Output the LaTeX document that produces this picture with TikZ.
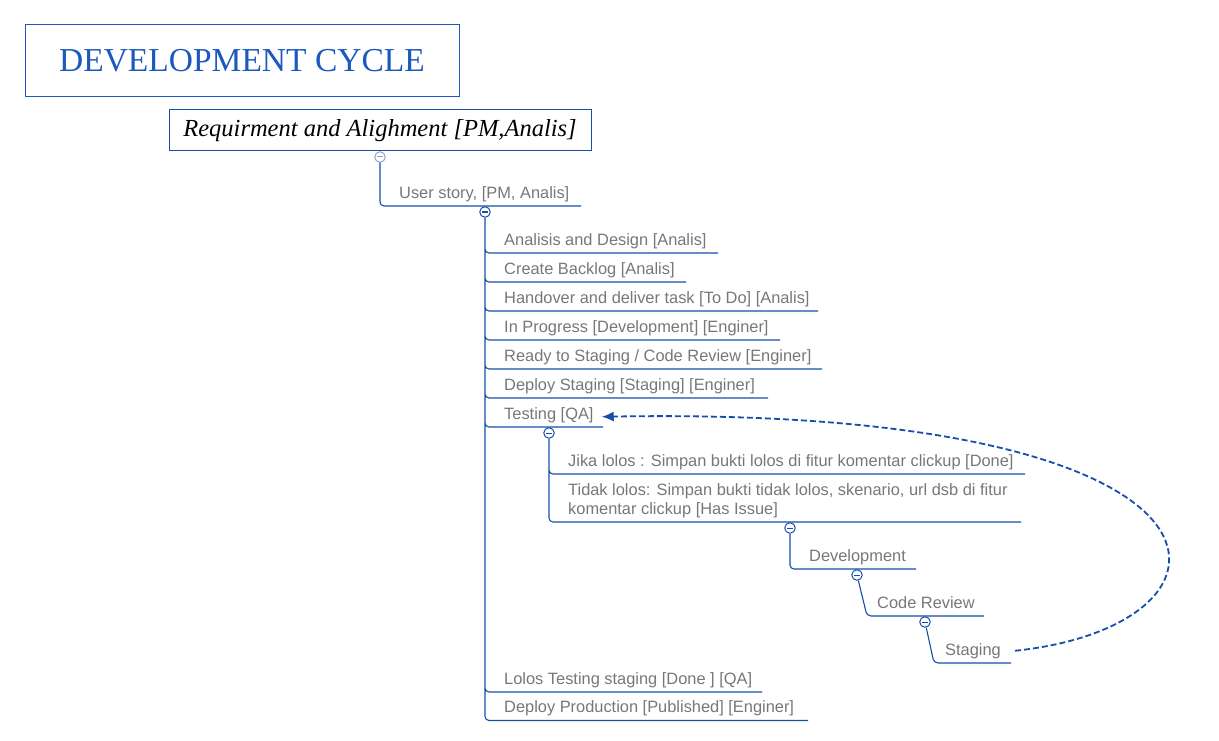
\documentclass[tikz,border=0pt]{standalone}
\usepackage{fontspec}
\setmainfont{Liberation Serif}
\setsansfont{Liberation Sans}
\usetikzlibrary{arrows.meta}
\definecolor{mapblue}{RGB}{22,78,170}
\definecolor{titleblue}{RGB}{28,88,190}
\definecolor{foldgray}{RGB}{150,160,205}
\definecolor{topicgray}{RGB}{119,119,119}

\begin{document}
\begin{tikzpicture}[x=1pt,y=-1pt,
            topic/.style = {anchor=base west,inner sep=0pt,text=topicgray,
                align=left,font=\sffamily\fontsize{16.4}{18.5}\selectfont},
            fold/.style = {circle,draw=#1,fill=white,minimum size=10.5pt,
                inner sep=0pt,line width=1pt,
                path picture={\draw[#1,line width=1pt]
                    ([xshift=2.5pt]path picture bounding box.west) --
                    ([xshift=-2.5pt]path picture bounding box.east);}},
            fold/.default = mapblue,
            branch/.style = {draw=mapblue,line width=1.1pt,rounded corners=4pt},
            loopback/.style = {draw=mapblue,line width=1.8pt,
                dash pattern=on 6pt off 3pt,-{Latex[length=12pt,width=10pt]}}]
            \useasboundingbox (0,0) rectangle (1219,741);
            % heading boxes
            \node[draw=titleblue,line width=1pt,minimum width=434pt,
                minimum height=72pt,text=titleblue,
                font=\fontsize{33.5}{40}\selectfont] (title) at (242,61)
                {DEVELOPMENT CYCLE};
            \node[draw=mapblue,line width=1pt,minimum width=422pt,
                minimum height=41pt,font=\itshape\fontsize{24.5}{28}\selectfont]
                (req) at (380,130.5) {Requirment and Alighment [PM,Analis]};
            % user story
            \node[topic] (us) at (399,198.5) {User story, [PM, Analis]};
            \coordinate (us-end) at (581,206);
            \draw[branch] (380,157) |- (us-end);
            \node[fold=foldgray] (f1) at (380,157) {};
            % steps
            \node[topic] (s1) at (504,245) {Analisis and Design [Analis]};
            \node[topic] (s2) at (504,274) {Create Backlog [Analis]};
            \node[topic] (s3) at (504,303) {Handover and deliver task [To Do] [Analis]};
            \node[topic] (s4) at (504,332) {In Progress [Development] [Enginer]};
            \node[topic] (s5) at (504,361) {Ready to Staging / Code Review [Enginer]};
            \node[topic] (s6) at (504,390) {Deploy Staging [Staging] [Enginer]};
            \node[topic] (test) at (504,419) {Testing [QA]};
            \node[topic] (s8) at (504,684) {Lolos Testing staging [Done ] [QA]};
            \node[topic] (s9) at (504,712.5) {Deploy Production [Published] [Enginer]};
            \coordinate (s1-end) at (718,253);
            \coordinate (s2-end) at (686,282);
            \coordinate (s3-end) at (818,311);
            \coordinate (s4-end) at (780,340);
            \coordinate (s5-end) at (822,369);
            \coordinate (s6-end) at (768,398);
            \coordinate (test-end) at (603,427);
            \coordinate (s8-end) at (762,692);
            \coordinate (s9-end) at (808,720.5);
            \node[fold] (f2) at (485,212) {};
            \path[branch]
                (f2) |- (s1-end)
                (f2) |- (s2-end)
                (f2) |- (s3-end)
                (f2) |- (s4-end)
                (f2) |- (s5-end)
                (f2) |- (s6-end)
                (f2) |- (test-end)
                (f2) |- (s8-end)
                (f2) |- (s9-end);
            % testing outcome
            \node[topic] (pass) at (568,466)
                {Jika lolos : Simpan bukti lolos di fitur komentar clickup [Done]};
            \node[topic] (fail) at (568,514)
                {Tidak lolos: Simpan bukti tidak lolos, skenario, url dsb di fitur\\
                komentar clickup [Has Issue]};
            \coordinate (pass-end) at (1025,474);
            \coordinate (fail-end) at (1021,522);
            \node[fold] (f3) at (549,433) {};
            \path[branch]
                (f3) |- (pass-end)
                (f3) |- (fail-end);
            % fix loop
            \node[topic] (dev) at (809,561) {Development};
            \node[topic] (rev) at (877,608) {Code Review};
            \node[topic] (stg) at (945,655) {Staging};
            \coordinate (dev-end) at (916,569);
            \coordinate (rev-bend) at (867,616);
            \coordinate (rev-end) at (984,616);
            \coordinate (stg-bend) at (934,663);
            \coordinate (stg-end) at (1011,663);
            \node[fold] (f4) at (790,528) {};
            \node[fold] (f5) at (857,575) {};
            \node[fold] (f6) at (925,622) {};
            \draw[branch] (f4) |- (dev-end);
            \draw[branch] (f5) -- (rev-bend) -- (rev-end);
            \draw[branch] (f6) -- (stg-bend) -- (stg-end);
            \draw[loopback] ([xshift=14pt]stg.east) .. controls (1262,625)
                and (1268,405) .. ([xshift=8pt,yshift=-2pt]test.east);
        \end{tikzpicture}
\end{document}
